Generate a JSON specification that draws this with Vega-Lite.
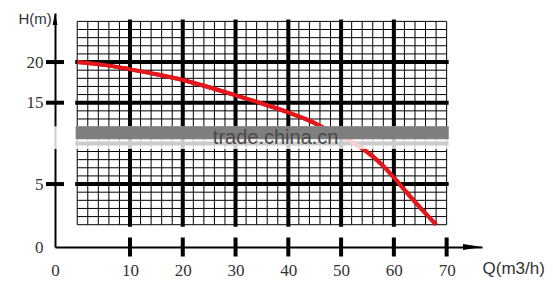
{
  "$schema": "https://vega.github.io/schema/vega-lite/v6.json",
  "width": 427,
  "height": 234,
  "autosize": {"type": "none"},
  "padding": {"left": 55, "top": 13, "right": 71, "bottom": 45},
  "background": "white",
  "config": {"view": {"stroke": null}},
  "datasets": {
    "curve": [
      {"Q": 0, "H": 20}, {"Q": 5, "H": 19.65}, {"Q": 10, "H": 19.1}, {"Q": 15, "H": 18.5},
      {"Q": 20, "H": 17.8}, {"Q": 25, "H": 16.9}, {"Q": 30, "H": 15.9}, {"Q": 35, "H": 14.9},
      {"Q": 40, "H": 13.8}, {"Q": 44, "H": 12.8}, {"Q": 47, "H": 11.8}, {"Q": 50, "H": 10.9},
      {"Q": 53, "H": 9.8}, {"Q": 56, "H": 8.4}, {"Q": 58, "H": 7.2}, {"Q": 60, "H": 5.8},
      {"Q": 62, "H": 4.3}, {"Q": 64, "H": 2.8}, {"Q": 66, "H": 1.4}, {"Q": 68, "H": 0}
    ],
    "vgrid": [
      {"Q": 0}, {"Q": 2}, {"Q": 4}, {"Q": 6}, {"Q": 8}, {"Q": 10}, {"Q": 12}, {"Q": 14}, {"Q": 16}, {"Q": 18},
      {"Q": 20}, {"Q": 22}, {"Q": 24}, {"Q": 26}, {"Q": 28}, {"Q": 30}, {"Q": 32}, {"Q": 34}, {"Q": 36}, {"Q": 38},
      {"Q": 40}, {"Q": 42}, {"Q": 44}, {"Q": 46}, {"Q": 48}, {"Q": 50}, {"Q": 52}, {"Q": 54}, {"Q": 56}, {"Q": 58},
      {"Q": 60}, {"Q": 62}, {"Q": 64}, {"Q": 66}, {"Q": 68}, {"Q": 70}
    ],
    "hgrid": [
      {"H": 0}, {"H": 1}, {"H": 2}, {"H": 3}, {"H": 4}, {"H": 5}, {"H": 6}, {"H": 7}, {"H": 8}, {"H": 9},
      {"H": 10}, {"H": 11}, {"H": 12}, {"H": 13}, {"H": 14}, {"H": 15}, {"H": 16}, {"H": 17}, {"H": 18}, {"H": 19},
      {"H": 20}, {"H": 21}, {"H": 22}, {"H": 23}, {"H": 24}, {"H": 25}
    ],
    "xticks": [{"Q": 10}, {"Q": 20}, {"Q": 30}, {"Q": 40}, {"Q": 50}, {"Q": 60}, {"Q": 70}],
    "yticks": [{"H": 5}, {"H": 15}, {"H": 20}],
    "watermark": [{"text": "trade.china.cn"}]
  },
  "layer": [
    {
      "data": {"name": "curve"},
      "mark": {"type": "line", "color": "#e4171c", "strokeWidth": 4, "interpolate": "monotone"},
      "encoding": {
        "x": {
          "field": "Q", "type": "quantitative",
          "scale": {"domain": [-4.21, 76.7], "nice": false, "zero": false},
          "axis": {
            "values": [-4.21, 10, 20, 30, 40, 50, 60, 70],
            "labelExpr": "datum.value < 0 ? '0' : datum.label",
            "ticks": false, "tickSize": 0, "grid": false,
            "domainColor": "black", "domainWidth": 2,
            "labelFont": "Liberation Sans Narrow", "labelFontSize": 17, "labelColor": "#333",
            "labelPadding": 23, "labelBaseline": "middle", "labelDx": 5,
            "labelFlush": false, "labelOverlap": false, "labelBound": false,
            "title": "Q(m3/h)", "titleX": 427, "titleY": 21, "titleAlign": "left",
            "titleBaseline": "middle", "titleFontWeight": "normal", "titleFont": "Liberation Sans",
            "titleFontSize": 17, "titleColor": "#333"
          }
        },
        "y": {
          "field": "H", "type": "quantitative",
          "scale": {"domain": [-2.74, 26.03], "nice": false, "zero": false},
          "axis": {
            "values": [-2.74, 5, 15, 20],
            "labelExpr": "datum.value < 0 ? '0' : datum.label",
            "ticks": false, "tickSize": 0, "grid": false,
            "domainColor": "black", "domainWidth": 2,
            "labelFont": "Liberation Sans Narrow", "labelFontSize": 17, "labelColor": "#333",
            "labelPadding": 12, "labelDy": -2.5,
            "labelFlush": false, "labelOverlap": false, "labelBound": false,
            "title": "H(m)", "titleAngle": 0, "titleX": -37, "titleY": 5, "titleAlign": "left",
            "titleBaseline": "middle", "titleFontWeight": "normal", "titleFont": "Liberation Sans",
            "titleFontSize": 15, "titleColor": "#333"
          }
        }
      }
    },
    {
      "data": {"name": "vgrid"},
      "mark": {"type": "rule", "color": "black", "strokeWidth": 1},
      "encoding": {
        "x": {"field": "Q", "type": "quantitative"},
        "y": {"datum": 0},
        "y2": {"datum": 25}
      }
    },
    {
      "data": {"name": "hgrid"},
      "mark": {"type": "rule", "color": "black", "strokeWidth": 1},
      "encoding": {
        "y": {"field": "H", "type": "quantitative"},
        "x": {"datum": 0},
        "x2": {"datum": 70}
      }
    },
    {
      "data": {"name": "vgrid"},
      "transform": [{"filter": "datum.Q % 10 == 0 && datum.Q > 0 && datum.Q < 70"}],
      "mark": {"type": "rule", "color": "black", "strokeWidth": 4, "strokeCap": "square"},
      "encoding": {
        "x": {"field": "Q", "type": "quantitative"},
        "y": {"datum": 0},
        "y2": {"datum": 25}
      }
    },
    {
      "data": {"name": "hgrid"},
      "transform": [{"filter": "datum.H % 5 == 0 && datum.H > 0 && datum.H < 25"}],
      "mark": {"type": "rule", "color": "black", "strokeWidth": 4, "strokeCap": "square"},
      "encoding": {
        "y": {"field": "H", "type": "quantitative"},
        "x": {"datum": 0},
        "x2": {"datum": 70}
      }
    },
    {
      "data": {"name": "curve"},
      "mark": {"type": "line", "color": "#e4171c", "strokeWidth": 4, "interpolate": "monotone"},
      "encoding": {
        "x": {"field": "Q", "type": "quantitative"},
        "y": {"field": "H", "type": "quantitative"}
      }
    },
    {
      "data": {"name": "xticks"},
      "mark": {"type": "tick", "orient": "vertical", "color": "black", "size": 19, "thickness": 4, "opacity": 1},
      "encoding": {
        "x": {"field": "Q", "type": "quantitative"},
        "y": {"datum": -2.74}
      }
    },
    {
      "data": {"name": "yticks"},
      "mark": {"type": "tick", "orient": "horizontal", "color": "black", "size": 18, "thickness": 4, "opacity": 1},
      "encoding": {
        "y": {"field": "H", "type": "quantitative"},
        "x": {"datum": -4.21}
      }
    },
    {
      "data": {"name": "watermark"},
      "mark": {"type": "rect", "color": "white", "opacity": 0.8},
      "encoding": {
        "x": {"datum": -5.5},
        "x2": {"datum": 71},
        "y": {"datum": 9.3},
        "y2": {"datum": 12.1}
      }
    },
    {
      "data": {"name": "watermark"},
      "mark": {"type": "rect", "color": "#7a7a7a", "opacity": 0.96},
      "encoding": {
        "x": {"datum": -0.3},
        "x2": {"datum": 70.4},
        "y": {"datum": 10.5},
        "y2": {"datum": 12.1}
      }
    },
    {
      "data": {"name": "watermark"},
      "mark": {"type": "text", "font": "Liberation Sans", "fontSize": 20, "color": "#4a4a4a", "align": "center", "baseline": "middle"},
      "encoding": {
        "text": {"field": "text"},
        "x": {"datum": 37.6},
        "y": {"datum": 10.66}
      }
    },
    {
      "data": {"name": "watermark"},
      "mark": {"type": "point", "shape": "M0,-1L0.4,1L-0.4,1Z", "size": 144, "filled": true, "color": "black", "opacity": 1},
      "encoding": {
        "x": {"datum": -4.21},
        "y": {"datum": 25.3}
      }
    },
    {
      "data": {"name": "watermark"},
      "mark": {"type": "point", "shape": "M1,0L-1,-0.32L-1,0.32Z", "size": 361, "filled": true, "color": "black", "opacity": 1},
      "encoding": {
        "x": {"datum": 74.9},
        "y": {"datum": -2.74}
      }
    }
  ]
}
